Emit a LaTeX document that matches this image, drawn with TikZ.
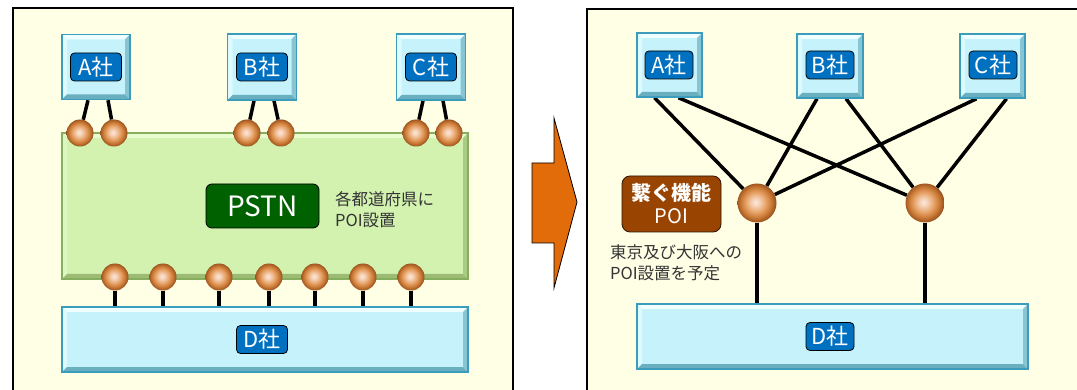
\documentclass[tikz,border=0pt]{standalone}
\usepackage{fontspec}
\newfontfamily\jp{Noto Sans CJK JP}
\definecolor{panel}{HTML}{FFFFE6}
\definecolor{cyanface}{HTML}{C6F3FB}
\definecolor{cyanT}{HTML}{EFFFFF}
\definecolor{cyanL}{HTML}{DDFAFF}
\definecolor{cyanB}{HTML}{6AAFC0}
\definecolor{cyanR}{HTML}{88C4D2}
\definecolor{cyanedge}{HTML}{3C9CBC}
\definecolor{gface}{HTML}{D3F2B0}
\definecolor{gT}{HTML}{E8FCD0}
\definecolor{gL}{HTML}{DDF7C0}
\definecolor{gB}{HTML}{9CBC74}
\definecolor{gR}{HTML}{AACB84}
\definecolor{gedge}{HTML}{86AE5E}
\definecolor{lblblue}{HTML}{0070C0}
\definecolor{pstngreen}{HTML}{006100}
\definecolor{poibrown}{HTML}{994400}
\definecolor{arroworange}{HTML}{E36C0A}
\definecolor{txtgray}{HTML}{333333}
\definecolor{ball0}{HTML}{FBE8DC}
\definecolor{ball1}{HTML}{F4CCAE}
\definecolor{ball2}{HTML}{E6A266}
\definecolor{ball3}{HTML}{CC7C38}
\definecolor{ball4}{HTML}{AA5E24}
\definecolor{ball5}{HTML}{8A4A1C}
\pgfdeclareradialshading{poiball}{\pgfpoint{-2bp}{1bp}}{color(0bp)=(ball0); color(6bp)=(ball1); color(13bp)=(ball2); color(19bp)=(ball3); color(23.5bp)=(ball4); color(26bp)=(ball5); color(50bp)=(ball5)}
\pgfdeclarelayer{frames}
\pgfdeclarelayer{wires}
\pgfsetlayers{frames,wires,main}
\tikzset{
  bevel/.style n args={4}{path picture={
     \path (path picture bounding box.north west) coordinate (q1)
           (path picture bounding box.north east) coordinate (q2)
           (path picture bounding box.south east) coordinate (q3)
           (path picture bounding box.south west) coordinate (q4);
     \fill[#1] (q1) -- (q2) -- ([shift={(-5pt,-5pt)}]q2) -- ([shift={(5pt,-5pt)}]q1) -- cycle;
     \fill[#2] (q1) -- ([shift={(5pt,-5pt)}]q1) -- ([shift={(5pt,5pt)}]q4) -- (q4) -- cycle;
     \fill[#3] (q4) -- ([shift={(5pt,5pt)}]q4) -- ([shift={(-5pt,5pt)}]q3) -- (q3) -- cycle;
     \fill[#4] (q3) -- ([shift={(-5pt,5pt)}]q3) -- ([shift={(-5pt,-5pt)}]q2) -- (q2) -- cycle;
  }},
  cbox/.style={draw=cyanedge, line width=1.5pt, fill=cyanface, inner sep=0pt, bevel={cyanT}{cyanL}{cyanB}{cyanR}},
  gbox/.style={draw=gedge, line width=1.5pt, fill=gface, inner sep=0pt, bevel={gT}{gL}{gB}{gR}},
  lbl/.style={draw=black, line width=0.8pt, fill=lblblue, rounded corners=4pt, minimum width=51pt, minimum height=28pt, inner sep=0pt, text=white, font=\jp\fontsize{22}{22}\selectfont},
  poinode/.style={circle, shading=poiball, inner sep=0pt, minimum size=#1},
  wire/.style={line width=3.5pt, black},
  panelframe/.style={draw=black, line width=2pt, fill=panel},
  note/.style={align=left, text=txtgray, inner sep=0pt, font=\jp\fontsize{16.5}{21}\selectfont},
}
\begin{document}
\begin{tikzpicture}[x=1pt,y=-1pt]
\useasboundingbox (0,0) rectangle (1077,390);
\begin{pgfonlayer}{frames}
  \fill[white] (0,0) rectangle (1077,390);
  \draw[panelframe] (13,8) rectangle (513,400);
  \draw[panelframe] (587,9) rectangle (1090,400);
  \draw[fill=arroworange, draw=black, line width=0.8pt, line join=miter]
     (532,163) -- (554,163) -- (554,118) -- (577,202) -- (554,288) -- (554,243) -- (532,243) -- cycle;
\end{pgfonlayer}

% ---------- left panel ----------
\node[gbox, minimum width=406pt, minimum height=146pt] (pstn) at (265,206) {};
\node[cbox, minimum width=68pt, minimum height=65pt] (lA) at (96,67) {};
\node[cbox, minimum width=69pt, minimum height=66pt] (lB) at (262,67) {};
\node[cbox, minimum width=69pt, minimum height=66pt] (lC) at (431,67) {};
\node[cbox, minimum width=406pt, minimum height=65pt] (lD) at (265,339.5) {};
\node[lbl] (lAt) at (96,67) {A社};
\node[lbl] (lBt) at (262,67) {B社};
\node[lbl] (lCt) at (431,67) {C社};
\node[lbl] (lDt) at (262,339.5) {D社};
\node[draw=black, line width=0.8pt, fill=pstngreen, rounded corners=6pt, minimum width=113pt, minimum height=44pt, inner sep=0pt, text=white, font=\jp\fontsize{28}{28}\selectfont] (pstnt) at (262.5,206) {PSTN};
\node[note, anchor=west] (pstnnote) at (335,209.5) {各都道府県に\\POI設置};

\foreach \n/\x in {t1/80,t2/114,t3/247,t4/281,t5/416,t6/449}
  \node[poinode=27pt] (\n) at (\x,133) {};
\foreach \n/\x in {b1/115,b2/163,b3/219,b4/269,b5/315,b6/363,b7/411}
  \node[poinode=27pt] (\n) at (\x,277) {};

\begin{pgfonlayer}{wires}
  \draw[wire] ([xshift=-8pt]lA.south) -- (t1);
  \draw[wire] ([xshift=12pt]lA.south) -- (t2);
  \draw[wire] ([xshift=-8pt]lB.south) -- (t3);
  \draw[wire] ([xshift=12pt]lB.south) -- (t4);
  \draw[wire] ([xshift=-8pt]lC.south) -- (t5);
  \draw[wire] ([xshift=12pt]lC.south) -- (t6);
  \foreach \n in {b1,b2,b3,b4,b5,b6,b7}
    \draw[wire] (\n) -- (\n |- lD.north);
\end{pgfonlayer}

% ---------- right panel ----------
\node[cbox, minimum width=65pt, minimum height=64pt] (rA) at (669.5,65) {};
\node[cbox, minimum width=66pt, minimum height=64pt] (rB) at (830,66) {};
\node[cbox, minimum width=65pt, minimum height=64pt] (rC) at (992.5,66) {};
\node[cbox, minimum width=391pt, minimum height=65pt] (rD) at (832.5,336.5) {};
\node[lbl, minimum width=48pt] (rAt) at (669,65) {A社};
\node[lbl, minimum width=48pt] (rBt) at (830,65) {B社};
\node[lbl, minimum width=48pt] (rCt) at (993,65) {C社};
\node[lbl, minimum width=48pt] (rDt) at (830,336.5) {D社};
\node[poinode=39pt] (p1) at (757,203) {};
\node[poinode=39pt] (p2) at (925,203) {};
\node[draw=black!70!poibrown, line width=0.8pt, fill=poibrown, rounded corners=8pt, minimum width=99pt, minimum height=56pt, inner sep=0pt, align=center, text=white, font=\jp\bfseries\fontsize{20}{23}\selectfont] (poit) at (671.5,204) {繋ぐ機能\\\mdseries POI};
\node[note, anchor=west] (poinote) at (610,263) {東京及び大阪への\\POI設置を予定};

\begin{pgfonlayer}{wires}
  \draw[wire] ([xshift=-15pt]rA.south) -- (p1);
  \draw[wire] ([xshift=9pt]rA.south) -- (p2);
  \draw[wire] ([xshift=-13pt]rB.south) -- (p1);
  \draw[wire] ([xshift=16pt]rB.south) -- (p2);
  \draw[wire] ([xshift=-16pt]rC.south) -- (p1);
  \draw[wire] ([xshift=14pt]rC.south) -- (p2);
  \draw[wire] (p1) -- (p1 |- rD.north);
  \draw[wire] (p2) -- (p2 |- rD.north);
\end{pgfonlayer}
\end{tikzpicture}
\end{document}
